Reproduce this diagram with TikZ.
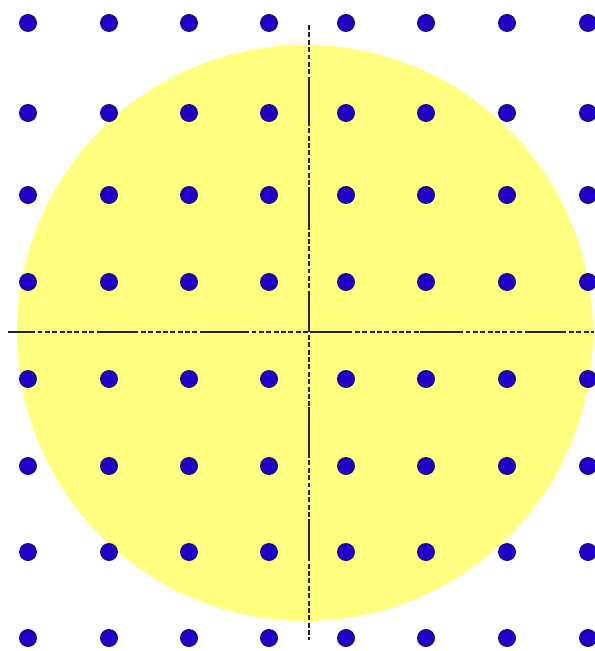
\documentclass[tikz,border=0pt]{standalone}
\usetikzlibrary{calc}
\definecolor{discyellow}{RGB}{255,255,128}
\definecolor{dotblue}{RGB}{30,0,200}
\definecolor{dotrim}{RGB}{25,10,95}
\definecolor{axisgray}{RGB}{35,35,35}
\begin{document}
\begin{tikzpicture}[x=0.02cm,y=-0.02cm,
  dot/.style={fill=dotblue,draw=dotrim,line width=0.5pt},
  axisdash/.style={draw=axisgray,line width=1.1pt,dash pattern=on 2.8pt off 1.4pt},
  axissolid/.style={draw=axisgray,line width=1.1pt}]
 \useasboundingbox (0,0) rectangle (594,651);
 % yellow disc
 \coordinate (o) at (305,333);
 \fill[discyellow] (o) circle (288);
 % axes, dashed with solid stretches
 \coordinate (top) at (309,25);\coordinate (bot) at (309,640);
 \coordinate (lft) at (8,332);\coordinate (rgt) at (594,332);
 \draw[axisdash] (top)--(bot);\draw[axisdash] (lft)--(rgt);
 \foreach \a/\b in {80/125,192/230,293/330,407/457,520/557}{\draw[axissolid] (top|-0,\a)--(top|-0,\b);}
 \foreach \a/\b in {8/30,97/138,205/245,310/347,420/458,528/565}{\draw[axissolid] (lft-|\a,0)--(lft-|\b,0);}
 % lattice of dots
 \foreach \y in {23,113,195,282,379,466,552,638}{
  \foreach \x in {28,109,189,269,346,426,507,588}{\fill[dot] (\x,\y) circle (8.5);}}
\end{tikzpicture}
\end{document}
